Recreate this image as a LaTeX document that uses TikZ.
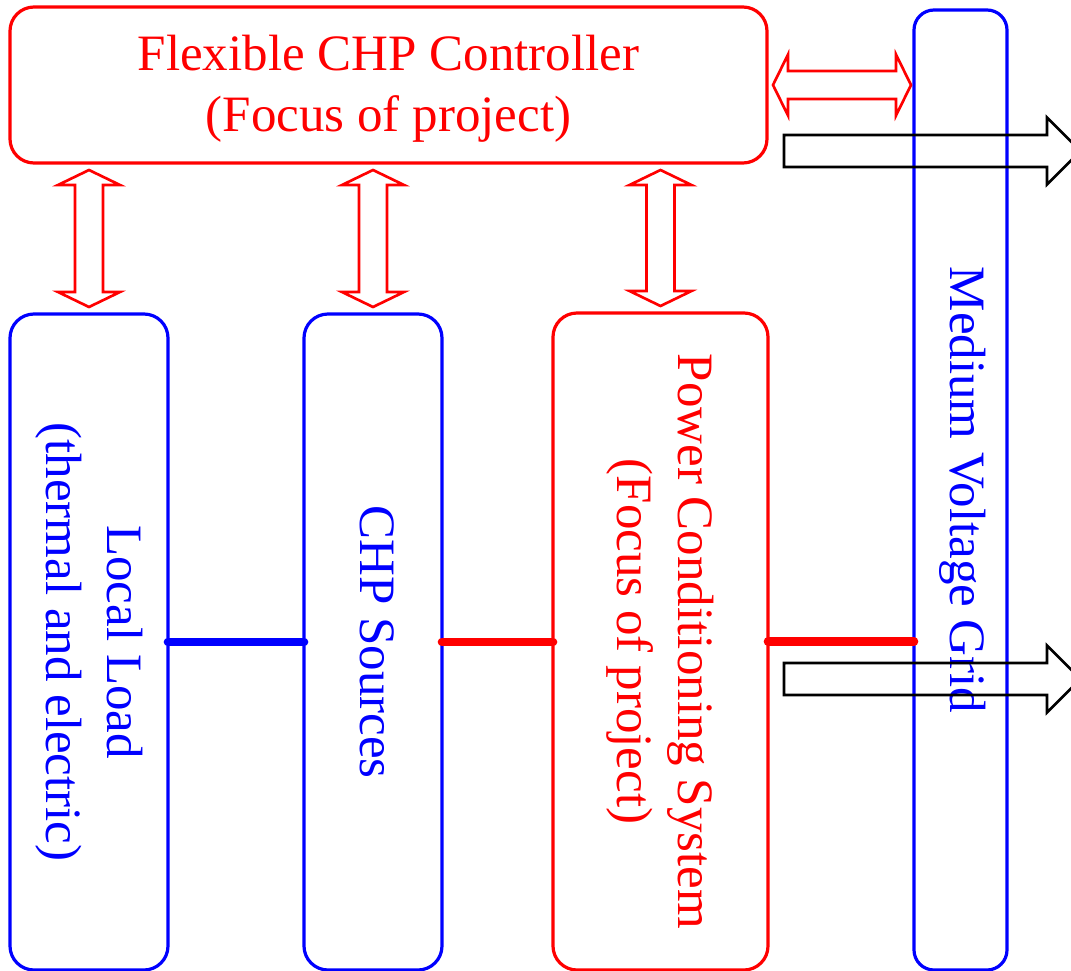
\documentclass[tikz,border=0pt]{standalone}
\usepackage{fontspec}
\usepackage{graphicx}
\setmainfont{Liberation Serif}
\usetikzlibrary{calc}

% centred block of lines, and the same block turned to read downwards
\newcommand\boxtext[1]{\begin{tabular}{@{}c@{}}#1\end{tabular}}
\newcommand\sidetext[1]{\rotatebox{-90}{\boxtext{#1}}}

% hollow vertical double arrow between two tips (upper, lower)
\newcommand\vdouble[2]{%
  \draw[hollowred] (#1) -- ($(#1)+(31,15)$) -- ($(#1)+(14,15)$)
    -- ($(#2)+(14,-15)$) -- ($(#2)+(31,-15)$) -- (#2)
    -- ($(#2)+(-31,-15)$) -- ($(#2)+(-14,-15)$)
    -- ($(#1)+(-14,15)$) -- ($(#1)+(-31,15)$) -- cycle;}
% hollow horizontal double arrow between two tips (left, right)
\newcommand\hdouble[2]{%
  \draw[hollowred] (#1) -- ($(#1)+(15,-30.5)$) -- ($(#1)+(15,-14)$)
    -- ($(#2)+(-15,-14)$) -- ($(#2)+(-15,-30.5)$) -- (#2)
    -- ($(#2)+(-15,30.5)$) -- ($(#2)+(-15,14)$)
    -- ($(#1)+(15,14)$) -- ($(#1)+(15,30.5)$) -- cycle;}
% hollow block arrow pointing right, from a tail point to a tip
\newcommand\rblock[2]{%
  \draw[hollowblack] ($(#1)+(0,-16)$) -- ($(#2)+(-33.5,-16)$)
    -- ($(#2)+(-33.5,-33.5)$) -- (#2) -- ($(#2)+(-33.5,33.5)$)
    -- ($(#2)+(-33.5,16)$) -- ($(#1)+(0,16)$) -- cycle;}

\tikzset{
  panel/.style={draw, line width=2.4pt, rounded corners=18pt,
    inner sep=0pt, outer sep=0pt,
    font=\fontsize{38.25}{45.75}\selectfont},
  redpanel/.style={panel, draw=red, text=red},
  bluepanel/.style={panel, draw=blue, text=blue},
  link/.style={line width=6.5pt, line cap=round},
  hollowred/.style={draw=red, line width=2pt, line join=miter},
  hollowblack/.style={draw=black, line width=2pt, line join=miter},
}

\begin{document}
\begin{tikzpicture}[x=0.75pt, y=-0.75pt]
  \useasboundingbox (0,0) rectangle (1071,971);
  \clip (0,0) rectangle (1071,971);

  % blocks
  \node[redpanel, minimum width=567.75pt, minimum height=117pt] (ctrl)
    at (388.5,85) {\raisebox{-3pt}[\height][\depth]{\boxtext{Flexible CHP Controller\\(Focus of project)}}};
  \node[bluepanel, minimum width=69.75pt, minimum height=720pt,
    rounded corners=15pt] (grid)
    at (960.5,490) {\hspace*{4pt}\sidetext{Medium Voltage Grid}};
  \node[bluepanel, minimum width=118.5pt, minimum height=492pt] (load)
    at (89,642) {\sidetext{Local Load\\(thermal and electric)}};
  \node[bluepanel, minimum width=103.5pt, minimum height=492pt] (chp)
    at (373,642) {\sidetext{CHP Sources}};
  \node[redpanel, minimum width=161.25pt, minimum height=492.75pt] (pcs)
    at (660.5,641.5) {\sidetext{Power Conditioning System\\(Focus of project)}};

  % power links
  \draw[link, blue] (load.east) -- (chp.west);
  \draw[link, red] (chp.east) -- (chp.east -| pcs.west);
  \draw[link, red] (pcs.east) -- (pcs.east -| grid.west);

  % control exchange arrows
  \foreach \b in {load, chp, pcs} {
    \coordinate (\b-up) at ($(ctrl.south -| \b.north)+(0,7)$);
    \coordinate (\b-dn) at ($(\b.north)+(0,-7)$);
  }
  \vdouble{load-up}{load-dn}
  \vdouble{chp-up}{chp-dn}
  \vdouble{pcs-up}{pcs-dn}

  \coordinate (g-l) at ($(ctrl.east)+(6,0)$);
  \coordinate (g-r) at ($(ctrl.east -| grid.west)+(-3,0)$);
  \hdouble{g-l}{g-r}

  % outgoing arrows
  \coordinate (out1) at (784,151);
  \coordinate (out1tip) at (1080.5,151);
  \coordinate (out2) at (784,679);
  \coordinate (out2tip) at (1080.5,679);
  \rblock{out1}{out1tip}
  \rblock{out2}{out2tip}
\end{tikzpicture}
\end{document}
